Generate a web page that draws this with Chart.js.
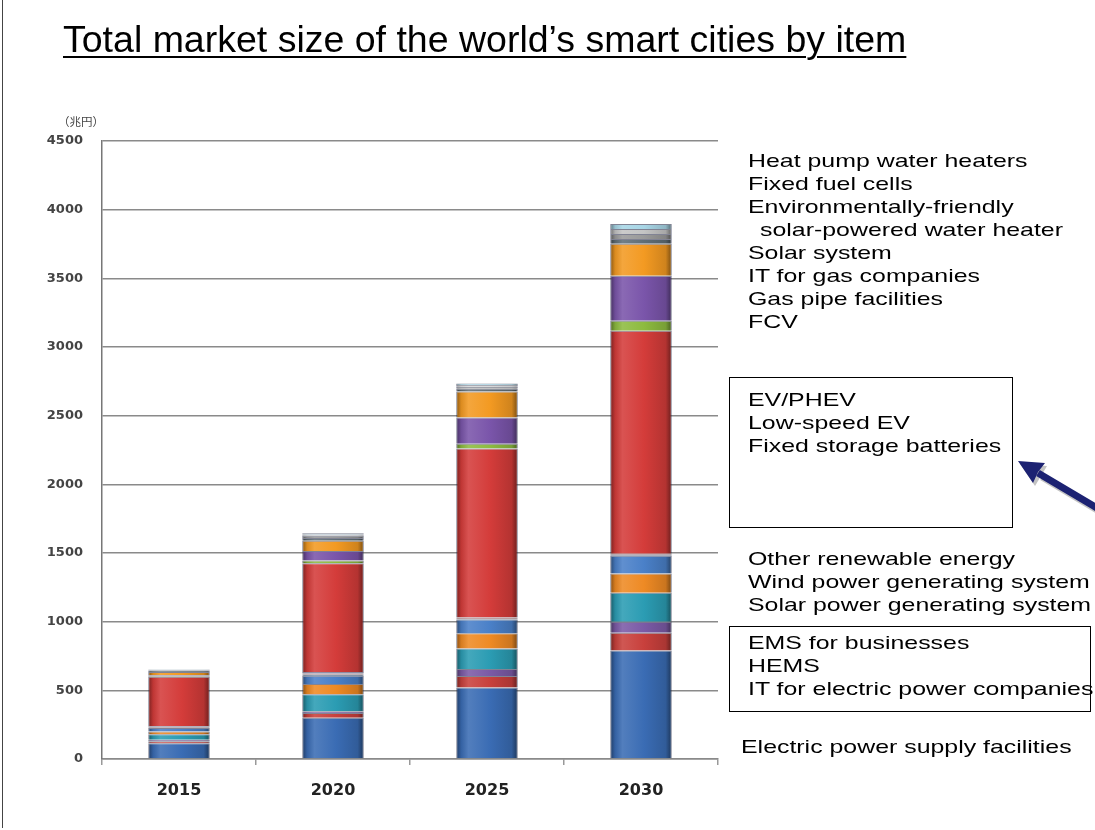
<!DOCTYPE html>
<html>
<head>
<meta charset="utf-8">
<script src="https://cdn.jsdelivr.net/npm/chart.js@4/dist/chart.umd.min.js"></script>
<style>
html,body{margin:0;padding:0;background:#fff;}
#wrap{position:relative;width:1095px;height:830px;overflow:hidden;font-family:"Liberation Sans",Arial,sans-serif;}
#frame{position:absolute;left:2px;top:0;width:1200px;height:828px;border-left:1px solid #444;}
#cv{position:absolute;left:0;top:0;}
#title{position:absolute;left:63px;top:17px;font-size:37.5px;line-height:44px;text-decoration:underline;text-decoration-thickness:2px;text-underline-offset:4px;white-space:nowrap;color:#000;}
#unit{position:absolute;left:58px;top:114px;font-family:"Noto Sans CJK JP",sans-serif;font-size:11.5px;line-height:15px;color:#444;white-space:nowrap;}
.t{position:absolute;white-space:nowrap;font-size:19px;line-height:23px;color:#000;transform:scaleX(1.31);transform-origin:0 50%;}
.box{position:absolute;border:1.5px solid #000;box-sizing:border-box;}
#arrow{position:absolute;left:0;top:0;}
</style>
</head>
<body>
<div id="wrap">
  <div id="frame"></div>
  <canvas id="cv" width="1095" height="830"></canvas>
  <div id="title">Total market size of the world’s smart cities by item</div>
  <div id="unit">（兆円）</div>
  <div class="box" style="left:729px;top:377px;width:284px;height:151px;"></div>
  <div class="box" style="left:729px;top:626px;width:362px;height:86px;"></div>
  <div id="labels"></div>
  <svg id="arrow" width="1095" height="830">
    <g transform="translate(2,3)" opacity="0.35">
      <line x1="1097" y1="508" x2="1040" y2="474" stroke="#555" stroke-width="7"/>
      <polygon points="1018,461 1045,463 1033,483" fill="#555"/>
    </g>
    <line x1="1097" y1="508" x2="1038" y2="473" stroke="#1c2272" stroke-width="7"/>
    <polygon points="1018,461 1045,463 1038,472 1033,483" fill="#1c2272"/>
  </svg>
</div>
<script>
// ---- data (trillion yen) ----
const years = ['2015', '2020', '2025', '2030'];
const yTicks = [0, 500, 1000, 1500, 2000, 2500, 3000, 3500, 4000, 4500];

const electricSupply   = [115, 300, 520, 790];
const itElectric       = [15, 35, 85, 130];
const hems             = [10, 12, 50, 80];
const emsBusiness      = [40, 125, 150, 210];
const solarPowerGen    = [20, 75, 110, 140];
const windPowerGen     = [25, 60, 100, 130];
const otherRenewable   = [5, 8, 5, 5];
const fixedStorage     = [5, 8, 5, 5];
const lowSpeedEV       = [5, 10, 5, 5];
const evPhev           = [359, 792, 1231, 1624];
const fcv              = [5, 20, 35, 72];
const gasPipe          = [5, 70, 190, 328];
const itGas            = [25, 75, 190, 232];
const solarSystem      = [10, 20, 20, 36];
const solarWaterHeater = [5, 15, 15, 36];
const fixedFuelCells   = [3, 10, 12, 36];
const heatPump         = [2, 8, 11, 36];

const seriesNames = [
  'Electric power supply facilities', 'IT for electric power companies', 'HEMS',
  'EMS for businesses', 'Solar power generating system', 'Wind power generating system',
  'Other renewable energy', 'Fixed storage batteries', 'Low-speed EV', 'EV/PHEV', 'FCV',
  'Gas pipe facilities', 'IT for gas companies', 'Solar system',
  'Environmentally-friendly solar-powered water heater', 'Fixed fuel cells', 'Heat pump water heaters'
];
const seriesValues = [
  electricSupply, itElectric, hems, emsBusiness, solarPowerGen, windPowerGen,
  otherRenewable, fixedStorage, lowSpeedEV, evPhev, fcv, gasPipe, itGas,
  solarSystem, solarWaterHeater, fixedFuelCells, heatPump
];
const seriesColors = [
  '#3a6cb4', '#c8403c', '#7b5aa6', '#2b9cb3', '#ee8a24', '#4a80c8',
  '#2c4d75', '#8c3836', '#5f4a80', '#d43c3a', '#8dbb3f', '#7a55aa', '#f39a22',
  '#5f6e76', '#9a9a9a', '#c4c4c4', '#a8d6e6'
];

// ---- legend-like annotations on the right ----
const textRows = [
  ['Heat pump water heaters', 748, 160],
  ['Fixed fuel cells', 748, 183],
  ['Environmentally-friendly', 748, 206],
  ['solar-powered water heater', 760, 229],
  ['Solar system', 748, 252],
  ['IT for gas companies', 748, 275],
  ['Gas pipe facilities', 748, 298],
  ['FCV', 748, 321],
  ['EV/PHEV', 748, 399],
  ['Low-speed EV', 748, 422],
  ['Fixed storage batteries', 748, 445],
  ['Other renewable energy', 748, 558],
  ['Wind power generating system', 748, 581],
  ['Solar power generating system', 748, 604],
  ['EMS for businesses', 748, 642],
  ['HEMS', 748, 665],
  ['IT for electric power companies', 748, 688],
  ['Electric power supply facilities', 741, 746]
];
const lab = document.getElementById('labels');
textRows.forEach(([txt, x, y]) => {
  const d = document.createElement('div');
  d.className = 't';
  d.textContent = txt;
  d.style.left = x + 'px';
  d.style.top = (y - 11.5) + 'px';
  lab.appendChild(d);
});

// ---- glossy bar fill ----
function shade(hex, f) {
  const n = parseInt(hex.slice(1), 16);
  let r = (n >> 16) & 255, g = (n >> 8) & 255, b = n & 255;
  const t = f < 0 ? 0 : 255, p = Math.abs(f);
  r = Math.round((t - r) * p + r); g = Math.round((t - g) * p + g); b = Math.round((t - b) * p + b);
  return `rgb(${r},${g},${b})`;
}
function glossy(base) {
  return (ctx) => {
    const chart = ctx.chart, xs = chart.scales && chart.scales.x;
    if (!xs || ctx.type !== 'data' || !xs.width) return base;
    const cx = xs.getPixelForValue(ctx.dataIndex);
    const w = xs.width / years.length * 0.4;
    if (!isFinite(cx) || !isFinite(w)) return base;
    const g = chart.ctx.createLinearGradient(cx - w / 2, 0, cx + w / 2, 0);
    g.addColorStop(0, shade(base, -0.45));
    g.addColorStop(0.08, shade(base, -0.1));
    g.addColorStop(0.2, shade(base, 0.12));
    g.addColorStop(0.55, base);
    g.addColorStop(0.9, shade(base, -0.15));
    g.addColorStop(1, shade(base, -0.5));
    return g;
  };
}

const datasets = seriesNames.map((name, i) => ({
  label: name,
  data: seriesValues[i],
  backgroundColor: glossy(seriesColors[i]),
  borderColor: 'rgba(25,30,60,0.55)',
  borderWidth: { left: 1, right: 1, top: 1, bottom: 0 },
  borderSkipped: false,
  barPercentage: 0.4,
  categoryPercentage: 1.0
}));

new Chart(document.getElementById('cv'), {
  type: 'bar',
  data: { labels: years, datasets },
  options: {
    responsive: false,
    devicePixelRatio: 1,
    animation: false,
    layout: { padding: { left: 0, top: 141, right: 377, bottom: 0 } },
    plugins: { legend: { display: false }, tooltip: { enabled: false } },
    scales: {
      x: {
        stacked: true,
        offset: true,
        grid: { drawOnChartArea: false, drawTicks: true, tickLength: 6, color: '#999', lineWidth: 1.5 },
        border: { display: true, color: '#8a8a8a', width: 1.5 },
        ticks: { color: '#222', font: { family: 'DejaVu Sans', size: 16, weight: 'bold' }, padding: 16 },
        afterFit: (s) => { s.height = 71; s.paddingLeft = 0; s.paddingRight = 0; }
      },
      y: {
        stacked: true,
        min: 0,
        max: 4500,
        afterBuildTicks: (s) => { s.ticks = yTicks.map(v => ({ value: v })); },
        grid: { color: '#8a8a8a', lineWidth: 1.5, drawTicks: false },
        border: { display: true, color: '#777', width: 1.5 },
        ticks: {
          color: '#444',
          font: { family: 'DejaVu Sans', size: 13, weight: 'bold' },
          padding: 19,
          callback: (v) => String(v)
        },
        afterFit: (s) => { s.width = 102; s.paddingTop = 0; s.paddingBottom = 0; }
      }
    }
  }
});
</script>
</body>
</html>
